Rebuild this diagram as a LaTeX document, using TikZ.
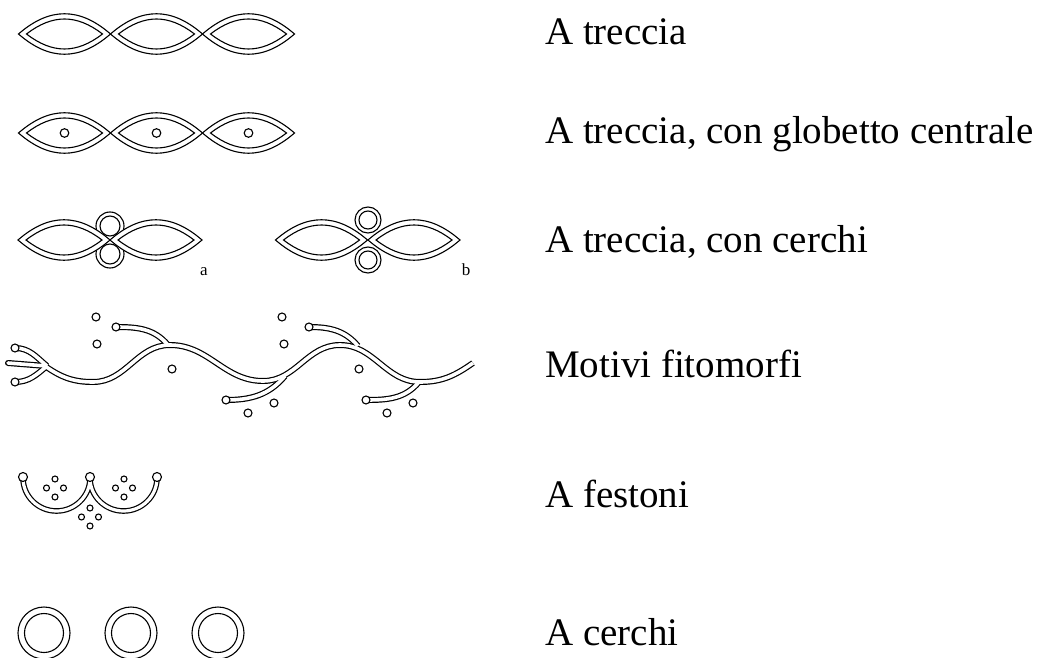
\documentclass[tikz,border=0pt]{standalone}
\usepackage{fontspec}
\setmainfont{Liberation Serif}
\usepackage{tikz}

\tikzset{
  lente/.pic={
    \draw[segno,fill=white] (-46,0) .. controls (-15,27) and (15,27) .. (46,0) .. controls (15,-27) and (-15,-27) .. cycle;
    \draw[segno] (-38,0) .. controls (-12,20) and (12,20) .. (38,0) .. controls (12,-20) and (-12,-20) .. cycle;
  }
}

\begin{document}
\begin{tikzpicture}[x=1pt,y=1pt,
  segno/.style={line width=1.1pt},
  voce/.style={anchor=base west,inner sep=0pt,font=\fontsize{39}{46}\selectfont},
  lettera/.style={anchor=base,inner sep=0pt,font=\fontsize{17}{20}\selectfont}]
\useasboundingbox (0,0) rectangle (1047,-658);

% treccia semplice
\foreach \cx in {64.5,156.5,248.5}
  \pic at (\cx,-34) {lente};

% treccia con globetto
\foreach \cx in {64.5,156.5,248.5}{
  \pic at (\cx,-133) {lente};
  \draw[segno] (\cx,-133) circle[radius=4.3];
}

% treccia con cerchi, variante a
\foreach \cy in {-226,-254}{
  \draw[segno] (110,\cy) circle[radius=14];
  \draw[segno] (110,\cy) circle[radius=10];
}
\pic at (64,-240) {lente};
\pic at (156,-240) {lente};
\node[lettera] (a) at (204,-275) {a};

% variante b
\pic at (321.5,-240) {lente};
\pic at (414,-240) {lente};
\foreach \cy in {-220,-260}{
  \draw[segno,fill=white] (368,\cy) circle[radius=13];
  \draw[segno] (368,\cy) circle[radius=9];
}
\node[lettera] (b) at (466,-275) {b};

% motivi fitomorfi
\foreach \spess/\tinta in {6pt/black,3.6pt/white}{
  \draw[line width=\spess,\tinta] (45,-366) to[out=-35,in=180] (93,-382) to[out=0,in=180] (170,-345)
    to[out=0,in=180] (263,-381) to[out=0,in=180] (340,-345) to[out=0,in=180] (420,-382) to[out=0,in=215] (473,-363);
  \draw[line width=\spess,\tinta] (47,-366) to[out=140,in=0] (15,-348);
  \draw[line width=\spess,\tinta] (47,-366) to[out=220,in=0] (15,-382);
  \draw[line width=\spess,\tinta,line cap=round] (8,-363) -- (46,-366);
  \draw[line width=\spess,\tinta] (168,-345) to[out=130,in=0] (116,-327);
  \draw[line width=\spess,\tinta] (358,-346) to[out=130,in=0] (309,-327);
  \draw[line width=\spess,\tinta] (285,-376) to[out=230,in=0] (226,-400);
  \draw[line width=\spess,\tinta] (419,-382) to[out=230,in=0] (366,-400);
}
\foreach \px/\py in {15/-348,15/-382,116/-327,309/-327,226/-400,366/-400}
  \draw[segno,fill=white] (\px,\py) circle[radius=4];
\foreach \px/\py in {96/-317,97/-344,172/-369,282/-317,284/-344,359/-369,248/-413,274/-403,387/-413,413/-403}
  \draw[segno] (\px,\py) circle[radius=4];

% festoni
\foreach \spess/\tinta in {5.6pt/black,3.2pt/white}{
  \draw[line width=\spess,\tinta] (23,-478) to[out=-90,in=180] (56.5,-511) to[out=0,in=-90] (90,-478);
  \draw[line width=\spess,\tinta] (90,-478) to[out=-90,in=180] (123.5,-511) to[out=0,in=-90] (157,-478);
}
\foreach \px in {23,90,157}
  \draw[segno,fill=white] (\px,-477) circle[radius=4.5];
\foreach \gx/\gy in {55/-488,124/-488,90/-517}
  \foreach \dx/\dy in {0/9,-8.5/0,8.5/0,0/-9}
    \draw[segno] (\gx+\dx,\gy+\dy) circle[radius=3];

% cerchi
\foreach \cx in {44,131,218}{
  \draw[segno] (\cx,-633) circle[radius=26];
  \draw[segno] (\cx,-633) circle[radius=19.5];
}

\node[voce] (treccia) at (545,-45) {A treccia};
\node[voce] (globetto) at (545,-144) {A treccia, con globetto centrale};
\node[voce] (cerchitreccia) at (545,-252) {A treccia, con cerchi};
\node[voce] (fitomorfi) at (545,-377) {Motivi fitomorfi};
\node[voce] (festoni) at (545,-507) {A festoni};
\node[voce] (cerchi) at (545,-645) {A cerchi};
\end{tikzpicture}
\end{document}
